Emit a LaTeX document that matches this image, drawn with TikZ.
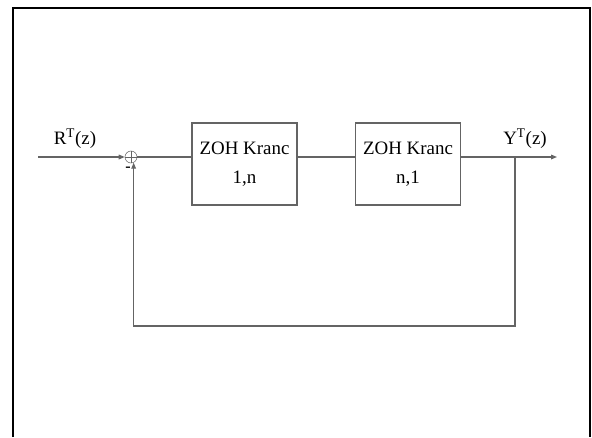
\documentclass[tikz,border=0pt]{standalone}
\usepackage{fontspec}
\setmainfont{Liberation Serif}
\usepackage{tikz}
\usetikzlibrary{arrows.meta, positioning, calc}
\definecolor{wiregray}{RGB}{100,100,100}

\begin{document}
\begin{tikzpicture}[x=0.75pt, y=-0.75pt,
    font=\fontsize{14.2}{21.5}\selectfont,
    block/.style={draw=wiregray, thick, minimum width=78.75pt,
                  minimum height=61.5pt, align=center, inner sep=0pt},
    sumnode/.style={draw=wiregray, circle, minimum size=9pt, inner sep=0pt,
                    path picture={
                      \draw[wiregray] (path picture bounding box.north) -- (path picture bounding box.south)
                        (path picture bounding box.west) -- (path picture bounding box.east);}},
    wire/.style={draw=wiregray, thick},
    sig/.style={wire, -{Triangle[length=4.5pt,width=3.5pt]}}]
  \useasboundingbox (0,0) rectangle (592,437);
  % outer frame
  \draw[line width=1.5pt] (13,437) -- (13,8) -- (590,8) -- (590,437);

  \coordinate (in) at (38,157);
  \node[sumnode] (sum) at (131,157) {};
  \node[block] (krane1) at (244.5,164) {ZOH Kranc\\1,n};
  \node[block] (krane2) at (408,164) {ZOH Kranc\\n,1};
  \coordinate (branch) at (515,157);
  \coordinate (out) at (557,157);
  \coordinate (fbbot) at (515,326);

  \node (rlabel) at (75,139) {R\textsuperscript{T}(z)};
  \node (ylabel) at (525,139) {Y\textsuperscript{T}(z)};
  \node[font=\bfseries\large] (minus) at (128,169) {-};

  \draw[sig] (in) -- (sum.west);
  \draw[wire] (sum.east) -- (sum.east -| krane1.west);
  \draw[wire] (krane1.east |- sum) -- (krane2.west |- sum);
  \draw[sig] (krane2.east |- sum) -- (out);
  \draw[sig] (branch) -- (fbbot) -| (sum.-65);
\end{tikzpicture}
\end{document}
